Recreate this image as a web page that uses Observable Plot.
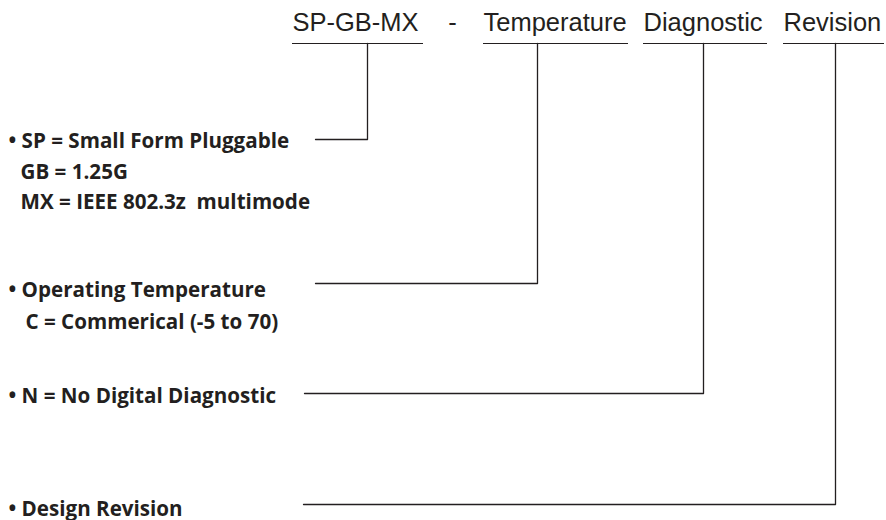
<!DOCTYPE html>
<html>
<head>
<meta charset="utf-8">
<script src="https://cdn.jsdelivr.net/npm/d3@7"></script>
<script src="https://cdn.jsdelivr.net/npm/@observablehq/plot@0.6"></script>
<style>
  html, body { margin: 0; padding: 0; background: #fff; }
  #chart { width: 886px; height: 520px; }
</style>
</head>
<body>
<div id="chart"></div>
<script>
// ---- content ----
const codeLabels = ["SP-GB-MX", "-", "Temperature", "Diagnostic", "Revision"];
const descLines = [
  "• SP = Small Form Pluggable",
  "GB = 1.25G",
  "MX = IEEE 802.3z  multimode",
  "• Operating Temperature",
  "C = Commerical (-5 to 70)",
  "• N = No Digital Diagnostic",
  "• Design Revision"
];

// ---- layout (diagram coordinates, px) ----
const codeX = [292, 452, 483, 643, 783];
const codeAnchor = ["start", "middle", "start", "start", "start"];
const codeBaseline = 30;
const underlineY = 43;
const underlineX1 = [292, 483, 643, 783];
const underlineX2 = [423, 628, 767, 884];
const connectorX = [367, 537, 703, 835];
const connectorY = [139, 283, 393, 504];
const connectorEndX = [315, 315, 304, 303];
const descX = [8, 20, 20, 8, 25, 8, 8];
const descBaseline = [147, 178, 208, 296, 328, 402, 515];

const ink = "#231f20";

const codes = codeLabels.map((t, i) => ({t, x: codeX[i], a: codeAnchor[i], y: codeBaseline}));
const underlines = underlineX1.map((x1, i) => ({x1, x2: underlineX2[i], y: underlineY}));
const connectors = connectorX.flatMap((x, i) => [
  {k: i, x, y: underlineY},
  {k: i, x, y: connectorY[i]},
  {k: i, x: connectorEndX[i], y: connectorY[i]}
]);
const descs = descLines.map((t, i) => ({t, x: descX[i], y: descBaseline[i]}));

const chart = Plot.plot({
  width: 886,
  height: 520,
  margin: 0,
  x: {domain: [0, 886], range: [0, 886], axis: null},
  y: {domain: [0, 520], range: [0, 520], axis: null},
  style: {background: "#fff", color: ink, fontFamily: "'Liberation Sans', Arial, sans-serif"},
  marks: [
    Plot.ruleY(underlines, {x1: "x1", x2: "x2", y: "y", stroke: ink, strokeWidth: 1.2}),
    Plot.line(connectors, {x: "x", y: "y", z: "k", stroke: ink, strokeWidth: 1.3, curve: "linear"}),
    Plot.text(codes.filter(d => d.a === "start"), {x: "x", y: "y", text: "t", textAnchor: "start", lineAnchor: "bottom",
      fontSize: 25.5, fill: ink, fontFamily: "'Liberation Sans', Arial, sans-serif"}),
    Plot.text(codes.filter(d => d.a === "middle"), {x: "x", y: "y", text: "t", textAnchor: "middle", lineAnchor: "bottom",
      fontSize: 25.5, fill: ink, fontFamily: "'Liberation Sans', Arial, sans-serif"}),
    Plot.text(descs, {x: "x", y: "y", text: "t", textAnchor: "start", lineAnchor: "bottom",
      fontSize: 20.6, fontWeight: "bold", fill: ink, fontFamily: "'Open Sans', sans-serif"})
  ]
});
document.getElementById("chart").appendChild(chart);
</script>
</body>
</html>
